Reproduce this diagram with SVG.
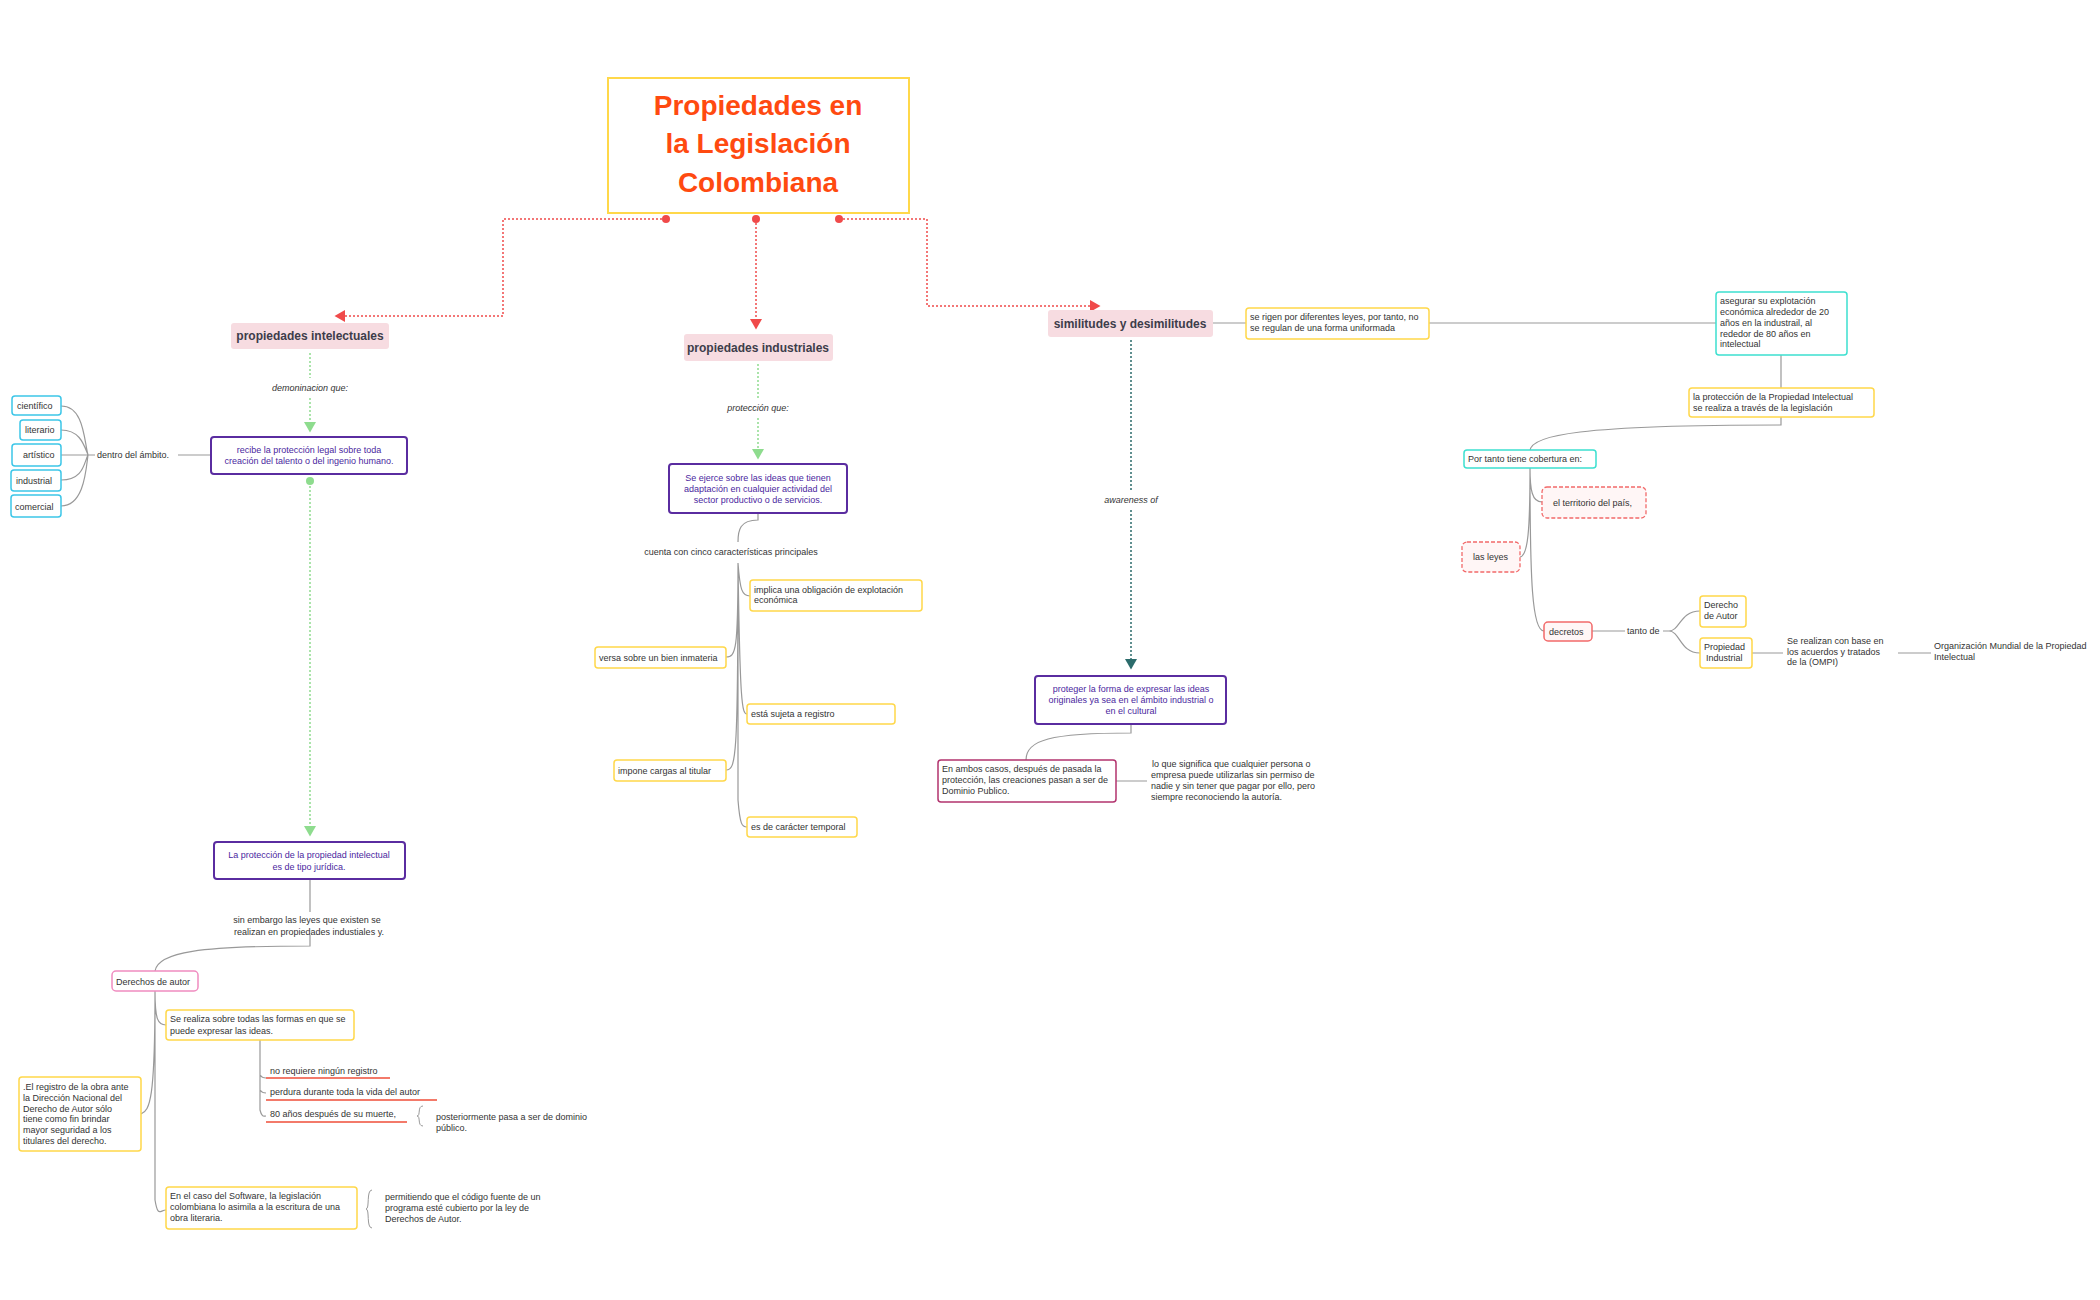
<svg xmlns="http://www.w3.org/2000/svg" width="2100" height="1300" viewBox="0 0 2100 1300">
<defs>
<style>
text{font-family:"Liberation Sans",Arial,sans-serif;font-size:9px;fill:#333}
.t{font-size:28px;font-weight:bold;fill:#ff4a10;text-anchor:middle}
.h{font-size:12px;font-weight:bold;fill:#3d3d4a;text-anchor:middle}
.p{fill:#4b1fa0;text-anchor:middle}
.c{text-anchor:middle}
.i{font-style:italic;text-anchor:middle}
.pink{fill:#f7dce1;stroke:none}
.pur{fill:#fff;stroke:#5a2ca0;stroke-width:2}
.yel{fill:#fff;stroke:#ffd84a;stroke-width:1.5}
.cy{fill:#fff;stroke:#3cc6e8;stroke-width:1.5}
.tq{fill:#fff;stroke:#3de0d0;stroke-width:1.5}
.rd{fill:#fff6f6;stroke:#f26a6a;stroke-width:1.3;stroke-dasharray:4 2}
.gl{fill:none;stroke:#999;stroke-width:1.2}
.ul{stroke:#f37a6a;stroke-width:2}
</style>
<marker id="ar" markerWidth="8" markerHeight="8" refX="6" refY="4" orient="auto"><path d="M0,0L7,4L0,8z" fill="#f04a4a"/></marker>
<marker id="ag" markerWidth="8" markerHeight="8" refX="6" refY="4" orient="auto"><path d="M0,0L7,4L0,8z" fill="#8edc8e"/></marker>
<marker id="at" markerWidth="8" markerHeight="8" refX="6" refY="4" orient="auto"><path d="M0,0L7,4L0,8z" fill="#2b6b6b"/></marker>
</defs>
<g id="connectors">
<g fill="none" stroke="#f04a4a" stroke-width="1.5" stroke-dasharray="2 2">
<path d="M666,219H503V316H336" marker-end="url(#ar)"/>
<path d="M756,219V328" marker-end="url(#ar)"/>
<path d="M839,219H927V306H1099" marker-end="url(#ar)"/>
</g>
<g fill="#f04a4a"><circle cx="666" cy="219" r="4"/><circle cx="756" cy="219" r="4"/><circle cx="839" cy="219" r="4"/></g>
<g fill="none" stroke="#8edc8e" stroke-width="1.5" stroke-dasharray="2 2">
<path d="M310,353V378M310,398V431" marker-end="url(#ag)"/>
<path d="M310,482V835" marker-end="url(#ag)"/>
<path d="M758,364V398M758,418V458" marker-end="url(#ag)"/>
</g>
<circle cx="310" cy="481" r="4" fill="#8edc8e"/>
<path d="M1131,340V490M1131,510V668" fill="none" stroke="#2b6b6b" stroke-width="1.5" stroke-dasharray="2 2" marker-end="url(#at)"/>
<g class="gl">
<path d="M178,455H211"/>
<path d="M61,406C84,406 84,440 88,455M61,430C80,430 84,445 88,455M61,455H95M61,480C84,480 84,462 88,455M61,506C84,506 86,470 88,455"/>
<path d="M310,879V912M310,935V946C200,946 158,952 155,971"/>
<path d="M155,991V1200C158,1218 160,1210 166,1210M155,991C155,1020 158,1025 166,1025M155,991C155,1100 150,1110 141,1114"/>
<path d="M260,1040V1110C262,1118 264,1116 266,1116M260,1040V1075C262,1078 264,1078 266,1078M260,1040V1090C262,1093 264,1093 266,1093"/>
<path d="M758,513V520C740,520 738,530 738,542M738,563V800C740,825 742,827 747,827M738,563C740,590 742,596 750,596M738,563C738,650 736,657 726,657M738,563C740,705 742,714 747,714M738,563C738,760 736,770 726,770"/>
<path d="M1213,323H1246M1429,323H1716"/>
<path d="M1131,724V733C1050,733 1026,740 1026,760M1116,781H1147"/>
<path d="M1781,355V388M1781,417V425C1580,425 1530,435 1530,451"/>
<path d="M1530,468C1530,490 1532,502 1542,502M1530,468C1530,530 1528,556 1520,557M1530,468C1530,580 1532,631 1544,631"/>
<path d="M1592,631H1625M1663,631H1669C1680,631 1680,611 1700,611M1669,631C1680,631 1680,653 1700,653"/>
<path d="M1752,653H1783M1898,653H1931"/>
</g>
<g fill="none" stroke="#999" stroke-width="1">
<path d="M423,1106C417,1106 421,1116 417,1116C421,1116 417,1126 423,1126"/>
<path d="M372,1190C366,1190 370,1209 366,1209C370,1209 366,1228 372,1228"/>
</g>
</g>
<g id="title"><rect x="608" y="78" width="301" height="135" fill="#fff" stroke="#ffd84a" stroke-width="2"/>
<text class="t" x="758" y="115">Propiedades en</text><text class="t" x="758" y="153">la Legislación</text><text class="t" x="758" y="192">Colombiana</text></g>
<g id="n_pi"><rect class="pink" x="231" y="323" width="158" height="26" rx="3"/><text class="h" x="310" y="340">propiedades intelectuales</text></g>
<g id="n_pind"><rect class="pink" x="684" y="334" width="149" height="27" rx="3"/><text class="h" x="758" y="352">propiedades industriales</text></g>
<g id="n_sim"><rect class="pink" x="1048" y="310" width="165" height="27" rx="3"/><text class="h" x="1130" y="328">similitudes y desimilitudes</text></g>
<text class="i" x="310" y="391">demoninacion que:</text>
<text class="i" x="758" y="411">protección que:</text>
<text class="i" x="1131" y="503">awareness of</text>
<g id="n_recibe"><rect class="pur" x="211" y="437" width="196" height="37" rx="3"/><text class="p" x="309" y="453">recibe la protección legal sobre toda</text><text class="p" x="309" y="464">creación del talento o del ingenio humano.</text></g>
<text x="97" y="458">dentro del ámbito.</text>
<g id="n_cien"><rect class="cy" x="12" y="396" width="49" height="19" rx="3"/><text x="17" y="409">científico</text></g>
<g id="n_lit"><rect class="cy" x="20" y="420" width="41" height="20" rx="3"/><text x="25" y="433">literario</text></g>
<g id="n_art"><rect class="cy" x="12" y="444" width="49" height="22" rx="3"/><text x="23" y="458">artístico</text></g>
<g id="n_ind"><rect class="cy" x="11" y="470" width="50" height="21" rx="3"/><text x="16" y="484">industrial</text></g>
<g id="n_com"><rect class="cy" x="11" y="495" width="50" height="22" rx="3"/><text x="15" y="510">comercial</text></g>
<g id="n_lapro"><rect class="pur" x="214" y="842" width="191" height="37" rx="3"/><text class="p" x="309" y="858">La protección de la propiedad intelectual</text><text class="p" x="309" y="870">es de tipo jurídica.</text></g>
<text class="c" x="307" y="923">sin embargo las leyes que existen se</text><text class="c" x="309" y="935">realizan en propiedades industiales y.</text>
<g id="n_da"><rect x="112" y="971" width="86" height="20" rx="4" fill="#fff" stroke="#f08cc0" stroke-width="1.5"/><text x="116" y="985">Derechos de autor</text></g>
<g id="n_sereal"><rect class="yel" x="166" y="1010" width="188" height="30" rx="3"/><text x="170" y="1022">Se realiza sobre todas las formas en que se</text><text x="170" y="1034">puede expresar las ideas.</text></g>
<g id="n_nor"><text x="270" y="1074">no requiere ningún registro</text><line class="ul" x1="266" y1="1078" x2="390" y2="1078"/></g>
<g id="n_perd"><text x="270" y="1095">perdura durante toda la vida del autor</text><line class="ul" x1="266" y1="1100" x2="437" y2="1100"/></g>
<g id="n_80"><text x="270" y="1117">80 años después de su muerte,</text><line class="ul" x1="266" y1="1122" x2="407" y2="1122"/></g>
<text x="436" y="1120">posteriormente pasa a ser de dominio</text><text x="436" y="1131">público.</text>
<g id="n_reg"><rect class="yel" x="19" y="1077" width="122" height="74" rx="3"/>
<text x="23" y="1090">.El registro de la obra ante</text><text x="23" y="1101">la Dirección Nacional del</text><text x="23" y="1112">Derecho de Autor sólo</text><text x="23" y="1122">tiene como fin brindar</text><text x="23" y="1133">mayor seguridad a los</text><text x="23" y="1144">titulares del derecho.</text></g>
<g id="n_soft"><rect class="yel" x="166" y="1187" width="191" height="42" rx="3"/><text x="170" y="1199">En el caso del Software, la legislación</text><text x="170" y="1210">colombiana lo asimila a la escritura de una</text><text x="170" y="1221">obra literaria.</text></g>
<text x="385" y="1200">permitiendo que el código fuente de un</text><text x="385" y="1211">programa esté cubierto por la ley de</text><text x="385" y="1222">Derechos de Autor.</text>
<g id="n_ejerce"><rect class="pur" x="669" y="464" width="178" height="49" rx="3"/><text class="p" x="758" y="481">Se ejerce sobre las ideas que tienen</text><text class="p" x="758" y="492">adaptación en cualquier actividad del</text><text class="p" x="758" y="503">sector productivo o de servicios.</text></g>
<text class="c" x="731" y="555">cuenta con cinco características principales</text>
<g id="n_impl"><rect class="yel" x="750" y="580" width="172" height="31" rx="3"/><text x="754" y="593">implica una obligación de explotación</text><text x="754" y="603">económica</text></g>
<g id="n_versa"><rect class="yel" x="595" y="647" width="131" height="21" rx="3"/><text x="599" y="661">versa sobre un bien inmateria</text></g>
<g id="n_suj"><rect class="yel" x="747" y="704" width="148" height="20" rx="3"/><text x="751" y="717">está sujeta a registro</text></g>
<g id="n_imp"><rect class="yel" x="614" y="760" width="112" height="21" rx="3"/><text x="618" y="774">impone cargas al titular</text></g>
<g id="n_temp"><rect class="yel" x="747" y="817" width="110" height="20" rx="3"/><text x="751" y="830">es de carácter temporal</text></g>
<g id="n_prot"><rect class="pur" x="1035" y="676" width="191" height="48" rx="3"/><text class="p" x="1131" y="692">proteger la forma de expresar las ideas</text><text class="p" x="1131" y="703">originales ya sea en el ámbito industrial o</text><text class="p" x="1131" y="714">en el cultural</text></g>
<g id="n_ambos"><rect x="938" y="760" width="178" height="42" rx="3" fill="#fff" stroke="#b2336e" stroke-width="1.5"/><text x="942" y="772">En ambos casos, después de pasada la</text><text x="942" y="783">protección, las creaciones pasan a ser de</text><text x="942" y="794">Dominio Publico.</text></g>
<text x="1152" y="767">lo que significa que cualquier persona o</text><text x="1151" y="778">empresa puede utilizarlas sin permiso de</text><text x="1151" y="789">nadie y sin tener que pagar por ello, pero</text><text x="1151" y="800">siempre reconociendo la autoría.</text>
<g id="n_rigen"><rect class="yel" x="1246" y="308" width="183" height="31" rx="3"/><text x="1250" y="320">se rigen por diferentes leyes, por tanto, no</text><text x="1250" y="331">se regulan de una forma uniformada</text></g>
<g id="n_aseg"><rect class="tq" x="1716" y="292" width="131" height="63" rx="3"/><text x="1720" y="304">asegurar su explotación</text><text x="1720" y="315">económica alrededor de 20</text><text x="1720" y="326">años en la industrail, al</text><text x="1720" y="337">rededor de 80 años en</text><text x="1720" y="347">intelectual</text></g>
<g id="n_lpi"><rect class="yel" x="1689" y="388" width="185" height="29" rx="3"/><text x="1693" y="400">la protección de la Propiedad Intelectual</text><text x="1693" y="411">se realiza a través de la legislación</text></g>
<g id="n_port"><rect class="tq" x="1464" y="450" width="132" height="18" rx="3"/><text x="1468" y="462">Por tanto tiene cobertura en:</text></g>
<g id="n_terr"><rect class="rd" x="1542" y="487" width="104" height="31" rx="5"/><text x="1553" y="506">el territorio del país,</text></g>
<g id="n_leyes"><rect class="rd" x="1462" y="542" width="58" height="30" rx="5"/><text x="1473" y="560">las leyes</text></g>
<g id="n_decr"><rect x="1544" y="622" width="48" height="19" rx="4" fill="#fff6f6" stroke="#f26a6a" stroke-width="1.5"/><text x="1549" y="635">decretos</text></g>
<text x="1627" y="634">tanto de</text>
<g id="n_dda"><rect class="yel" x="1700" y="596" width="46" height="31" rx="3"/><text x="1704" y="608">Derecho</text><text x="1704" y="619">de Autor</text></g>
<g id="n_pind2"><rect class="yel" x="1700" y="638" width="52" height="30" rx="3"/><text x="1704" y="650">Propiedad</text><text x="1706" y="661">Industrial</text></g>
<text x="1787" y="644">Se realizan con base en</text><text x="1787" y="655">los acuerdos y tratados</text><text x="1787" y="665">de la  (OMPI)</text>
<text x="1934" y="649">Organización Mundial de la Propiedad</text><text x="1934" y="660">Intelectual</text>
</svg>
